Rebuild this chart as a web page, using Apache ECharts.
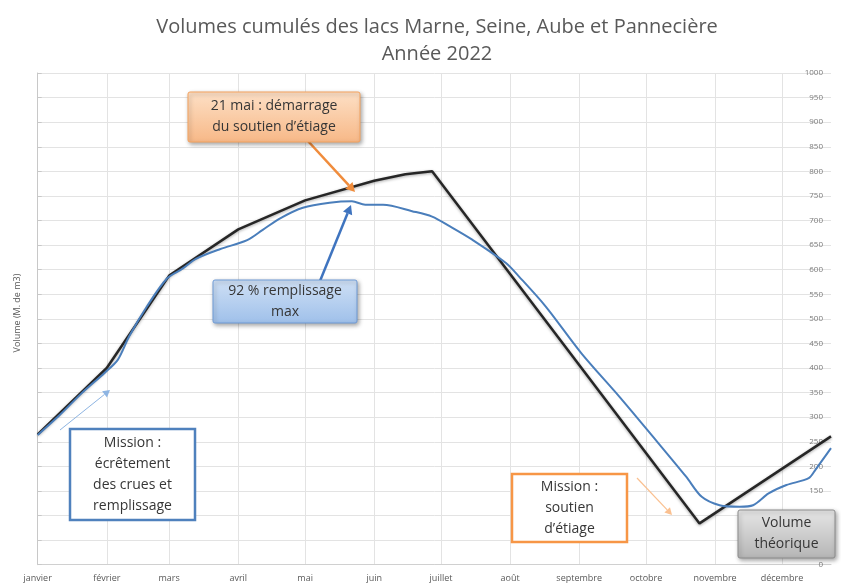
<!DOCTYPE html>
<html lang="fr">
<head>
<meta charset="utf-8">
<title>Volumes cumulés des lacs – 2022</title>
<script src="https://cdn.jsdelivr.net/npm/echarts@6/dist/echarts.min.js"></script>
<style>
  html, body { margin: 0; padding: 0; background: #ffffff; }
  #chart { width: 841px; height: 585px; }
</style>
</head>
<body>
<div id="chart"></div>
<script>
// Month labels and the day of year each month starts on
const months = ['janvier', 'février', 'mars', 'avril', 'mai', 'juin', 'juillet',
  'août', 'septembre', 'octobre', 'novembre', 'décembre'];
const monthStartDays = [0, 31, 59, 90, 120, 151, 181, 212, 243, 273, 304, 334];

// Theoretical (target) cumulated volume, M. de m3, by day of year
const theoDays    = [0,   31,  59,  90,  120, 151, 165, 177, 297, 356];
const theoVolumes = [265, 400, 588, 682, 741, 781, 794, 800, 84,  261];

// Observed cumulated volume 2022, M. de m3, by day of year
const realDays = [0, 10, 20, 30, 36, 41, 49, 58, 65, 71, 82, 94, 101, 109, 119, 131, 141, 147,
  155, 168, 177, 185, 195, 210, 216, 228, 244, 261, 276, 291, 298, 306, 315, 321, 328, 336,
  346, 349, 356];
const realVolumes = [264, 305, 350, 390, 417, 464, 525, 582, 602, 622, 642, 660, 681, 705, 726,
  736, 739, 732, 732, 719, 708, 688, 661, 614, 586, 525, 430, 342, 261, 179, 138, 121, 118,
  121, 145, 162, 176, 193, 237];

// Y axis range and step
const yMin = 0, yMax = 1000, yStep = 50;

const FONT = '"Open Sans", "Liberation Sans", sans-serif';
const TEXT_COLOR = '#363636';
const ZTOP = 100;

function zip(xs, ys) { return xs.map((x, i) => [x, ys[i]]); }

// Annotation box: rectangle with centred multi-line text
function box(x, y, w, h, lines, opt) {
  return [
    {
      type: 'rect', z: ZTOP,
      shape: { x: x, y: y, width: w, height: h, r: opt.r || 0 },
      style: {
        fill: opt.fill, stroke: opt.stroke, lineWidth: opt.lineWidth || 1.5,
        shadowBlur: opt.shadow ? 4 : 0, shadowColor: 'rgba(0,0,0,0.35)',
        shadowOffsetX: opt.shadow ? 1.5 : 0, shadowOffsetY: opt.shadow ? 2 : 0
      }
    },
    {
      type: 'text', z: ZTOP + 1,
      style: {
        x: x + w / 2, y: y + h / 2, text: lines.join('\n'),
        font: (opt.fontWeight || 'normal') + ' ' + (opt.fontSize || 14) + 'px ' + FONT,
        lineHeight: opt.lineHeight || 21,
        fill: TEXT_COLOR, textAlign: 'center', textVerticalAlign: 'middle'
      }
    }
  ];
}

// Straight arrow with a triangular head at (x2, y2)
function arrow(x1, y1, x2, y2, color, width, head) {
  const a = Math.atan2(y2 - y1, x2 - x1);
  const hl = head || 8, hw = hl * 0.55;
  const bx = x2 - hl * Math.cos(a), by = y2 - hl * Math.sin(a);
  const px = -Math.sin(a) * hw, py = Math.cos(a) * hw;
  return [
    { type: 'line', z: ZTOP - 5, shape: { x1: x1, y1: y1, x2: bx, y2: by },
      style: { stroke: color, lineWidth: width } },
    { type: 'polygon', z: ZTOP - 5, shape: { points: [[x2, y2], [bx + px, by + py], [bx - px, by - py]] },
      style: { fill: color } }
  ];
}

function vgrad(top, bottom) {
  return { type: 'linear', x: 0, y: 0, x2: 0, y2: 1,
    colorStops: [{ offset: 0, color: top }, { offset: 1, color: bottom }] };
}

const chart = echarts.init(document.getElementById('chart'), null, { renderer: 'canvas' });

chart.setOption({
  backgroundColor: '#ffffff',
  animation: false,
  title: {
    text: 'Volumes cumulés des lacs Marne, Seine, Aube et Pannecière\nAnnée 2022',
    left: 437, top: 14, padding: 0, textAlign: 'center',
    textStyle: { fontFamily: FONT, fontSize: 20, fontWeight: 'normal', color: '#595959', lineHeight: 27 }
  },
  grid: { left: 37.7, right: 10, top: 73, bottom: 20.3, containLabel: false },
  xAxis: {
    type: 'value', min: 0, max: 356,
    axisLine: { show: true, lineStyle: { color: '#d0d0d0', width: 1 } },
    axisTick: { show: false, customValues: monthStartDays },
    axisLabel: {
      customValues: monthStartDays, margin: 9,
      fontFamily: FONT, fontSize: 9, color: '#595959',
      formatter: function (v) { return months[monthStartDays.indexOf(v)] || ''; }
    },
    splitLine: { show: true, lineStyle: { color: '#e3e3e3', width: 1 } }
  },
  yAxis: {
    type: 'value', position: 'right', min: yMin, max: yMax, interval: yStep,
    axisLine: { show: true, lineStyle: { color: '#c8c8c8', width: 1 } },
    axisTick: { show: true, inside: false, length: 4, lineStyle: { color: '#c8c8c8' } },
    axisLabel: { inside: true, margin: 8, fontFamily: FONT, fontSize: 8, color: '#7a7a7a',
      formatter: function (v) { return String(v); } },
    splitLine: { show: true, lineStyle: { color: '#e3e3e3', width: 1 } }
  },
  series: [
    {
      name: 'Volume théorique', type: 'line', data: zip(theoDays, theoVolumes),
      showSymbol: false, smooth: false, z: 3,
      lineStyle: { color: '#262626', width: 2.5, shadowColor: 'rgba(0,0,0,0.35)', shadowBlur: 3, shadowOffsetY: 1 }
    },
    {
      name: 'Volume 2022', type: 'line', data: zip(realDays, realVolumes),
      showSymbol: false, smooth: 0.3, z: 4,
      lineStyle: { color: '#4a7ebb', width: 2 }
    }
  ],
  graphic: [].concat(
    [{
      type: 'text', z: 50, x: 17, y: 313, rotation: Math.PI / 2,
      style: { text: 'Volume (M. de m3)', font: '9px ' + FONT, fill: '#595959',
        textAlign: 'center', textVerticalAlign: 'middle' }
    }],
    arrow(307, 140, 355, 192, '#f08c3c', 2.5, 9),
    box(188, 92, 172, 50, ['21 mai : démarrage', 'du soutien d\u2019étiage'],
      { fill: vgrad('#fde0c6', '#f7b887'), stroke: '#f5a35f', lineWidth: 1, shadow: true, r: 2 }),
    arrow(320, 281, 351, 205, '#3f74bf', 2.5, 9),
    box(213, 280, 144, 43, ['92 % remplissage', 'max'],
      { fill: vgrad('#cfe0f5', '#9fc0ea'), stroke: '#6f9bd6', lineWidth: 1, shadow: true, r: 2 }),
    arrow(60, 430, 110, 390, '#8db4e2', 1, 7),
    box(70, 429, 125, 91, ['Mission :', 'écrêtement', 'des crues et', 'remplissage'],
      { fill: '#ffffff', stroke: '#4f81bd', lineWidth: 2.5 }),
    arrow(637, 478, 672, 515, '#fac090', 1.2, 7),
    box(512, 474, 115, 68, ['Mission :', 'soutien', 'd\u2019étiage'],
      { fill: '#ffffff', stroke: '#f79646', lineWidth: 2.5 }),
    box(738, 510, 97, 48, ['Volume', 'théorique'],
      { fill: vgrad('#e6e6e6', '#b5b5b5'), stroke: '#8c8c8c', lineWidth: 1, shadow: true, r: 2 })
  )
});
</script>
</body>
</html>
